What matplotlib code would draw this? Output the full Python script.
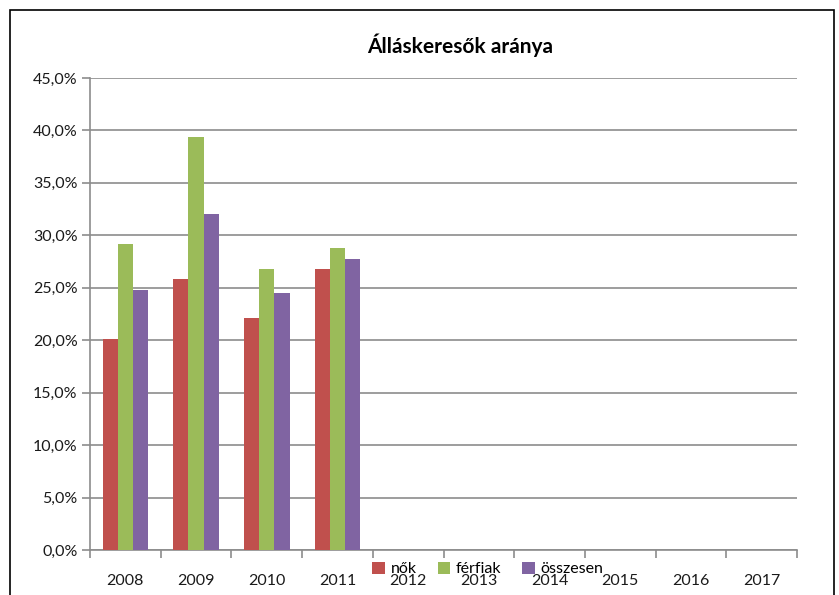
import matplotlib
matplotlib.use('Agg')
from matplotlib import pyplot as plt
from matplotlib.patches import Rectangle
from matplotlib.ticker import FuncFormatter, FixedLocator
import numpy as np

years = ['2008', '2009', '2010', '2011', '2012', '2013', '2014', '2015', '2016', '2017']
nok = [20.1, 25.8, 22.1, 26.8]
ferfiak = [29.2, 39.4, 26.8, 28.8]
osszesen = [24.8, 32.0, 24.5, 27.7]
series_names = ['nők', 'férfiak', 'összesen']
colors = ['#C0504D', '#9BBB59', '#8064A2']

plt.rcParams['font.family'] = ['Lato', 'DejaVu Sans']

fig = plt.figure(figsize=(8.39, 5.95), dpi=100)
ax = fig.add_axes([90/839, 1-550/595, 707/839, 472/595])

x = np.arange(len(years))
w = 0.215
for i, (vals, name, c) in enumerate(zip([nok, ferfiak, osszesen], series_names, colors)):
	xs = x[:len(vals)] + (i - 1) * w
	ax.bar(xs, vals, width=w, color=c, label=name, zorder=3)

ax.set_xlim(-0.5, len(years) - 0.5)
ax.set_ylim(0, 45)
ax.set_yticks(np.arange(0, 46, 5))
ax.yaxis.set_major_formatter(FuncFormatter(lambda v, p: ('%.1f%%' % v).replace('.', ',')))
ax.grid(axis='y', color='#8c8c8c', linewidth=1.2, zorder=0)

ax.set_xticks(x)
ax.set_xticklabels(years)
ax.xaxis.set_minor_locator(FixedLocator(np.arange(-0.5, len(years), 1)))
ax.tick_params(axis='x', which='major', length=0, pad=17, labelsize=11.5, colors='#1a1a1a')
ax.tick_params(axis='x', which='minor', length=6, color='#8c8c8c', width=1.2)
ax.tick_params(axis='y', length=6, color='#8c8c8c', width=1.2, labelsize=11.5,
	labelcolor='#1a1a1a', pad=3)

for s in ['top', 'right']:
	ax.spines[s].set_visible(False)
for s in ['left', 'bottom']:
	ax.spines[s].set_color('#8c8c8c')
	ax.spines[s].set_linewidth(1.2)

fig.text(460/839, 1-45/595, 'Álláskeresők aránya', ha='center', va='center',
	fontsize=15, fontweight='bold')

fig.legend(loc='center', bbox_to_anchor=(488/839, 1-569/595), ncol=3, frameon=False,
	handlelength=0.8, handleheight=0.8, handletextpad=0.35, columnspacing=1.3,
	fontsize=11.5)

fig.patches.append(Rectangle((10/839, -0.05), 824/839, 1.05 - 10/595,
	transform=fig.transFigure, fill=False, edgecolor='black', linewidth=1.2))

fig.savefig('out.png', dpi=100)
